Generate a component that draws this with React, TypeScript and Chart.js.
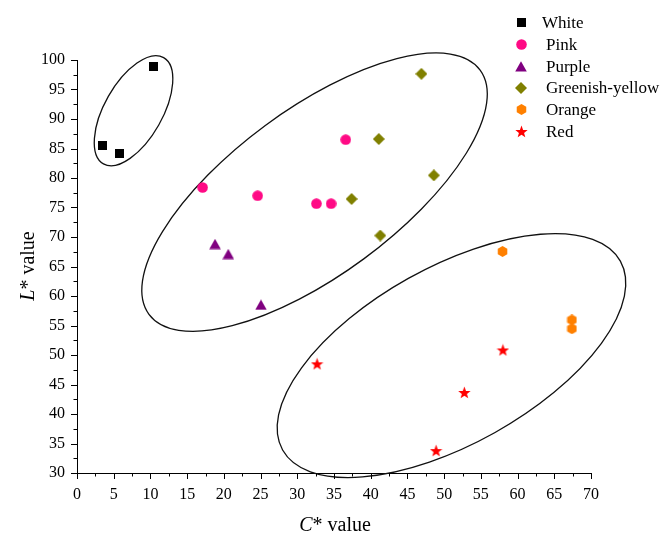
import React, { useEffect, useRef } from 'react';
import { Chart, registerables } from 'chart.js';
Chart.register(...registerables);

// ---- data ----
const seriesNames = ['White', 'Pink', 'Purple', 'Greenish-yellow', 'Orange', 'Red'];
const seriesColors = ['#000000', '#ff0a85', '#800080', '#808000', '#ff8000', '#ff0000'];
const seriesShapes = ['square', 'circle', 'triangle', 'diamond', 'hexagon', 'star'];

const whiteC = [10.4, 3.5, 5.8];
const whiteL = [98.85, 85.5, 84.1];
const pinkC = [17.1, 24.6, 32.6, 34.6, 36.6];
const pinkL = [78.4, 77.0, 75.65, 75.65, 86.5];
const purpleC = [18.8, 20.6, 25.05];
const purpleL = [68.8, 67.1, 58.5];
const greenC = [46.9, 41.1, 48.6, 37.4, 41.3];
const greenL = [97.65, 86.6, 80.45, 76.45, 70.25];
const orangeC = [57.95, 67.4, 67.4];
const orangeL = [67.55, 55.95, 54.45];
const redC = [32.7, 58.0, 52.75, 48.9];
const redL = [48.5, 50.85, 43.65, 33.8];

const xTicksMin = 0;
const xTicksMax = 70;
const yTicksMin = 30;
const yTicksMax = 100;
const tickStep = 5;

// cluster ellipses (data units): centre, major-axis end, minor/major ratio
const ellipseCenterC = [7.7, 32.35, 51.0];
const ellipseCenterL = [91.4, 77.6, 49.9];
const ellipseEndC = [11.8, 54.9, 74.0];
const ellipseEndL = [100.4, 98.3, 65.9];
const ellipseRatio = [0.475, 0.403, 0.457];

const FONT = "'Liberation Serif', 'Times New Roman', serif";

function makeMarker(shape: string, color: string): HTMLCanvasElement {
  const c = document.createElement('canvas');
  let w = 10, h = 10;
  if (shape === 'square') { w = 9; h = 9; }
  if (shape === 'circle') { w = 11; h = 11; }
  if (shape === 'triangle') { w = 12; h = 11; }
  if (shape === 'diamond') { w = 12; h = 12; }
  if (shape === 'hexagon') { w = 11; h = 11; }
  if (shape === 'star') { w = 13; h = 13; }
  c.width = w; c.height = h;
  const ctx = c.getContext('2d')!;
  ctx.fillStyle = color;
  ctx.beginPath();
  if (shape === 'square') {
    ctx.rect(0, 0, w, h);
  } else if (shape === 'circle') {
    ctx.arc(w / 2, h / 2, 5.3, 0, Math.PI * 2);
  } else if (shape === 'triangle') {
    ctx.moveTo(w / 2, 0.3);
    ctx.lineTo(w - 0.2, h - 0.5);
    ctx.lineTo(0.2, h - 0.5);
    ctx.closePath();
  } else if (shape === 'diamond') {
    ctx.moveTo(w / 2, 0);
    ctx.lineTo(w, h / 2);
    ctx.lineTo(w / 2, h);
    ctx.lineTo(0, h / 2);
    ctx.closePath();
  } else if (shape === 'hexagon') {
    for (let i = 0; i < 6; i++) {
      const a = -Math.PI / 2 + (i * Math.PI) / 3;
      const px = w / 2 + 5.5 * Math.cos(a);
      const py = h / 2 + 5.5 * Math.sin(a);
      if (i === 0) ctx.moveTo(px, py); else ctx.lineTo(px, py);
    }
    ctx.closePath();
  } else if (shape === 'star') {
    for (let i = 0; i < 10; i++) {
      const a = -Math.PI / 2 + (i * Math.PI) / 5;
      const r = i % 2 === 0 ? 6.5 : 2.7;
      const px = w / 2 + r * Math.cos(a);
      const py = h / 2 + 0.6 + r * Math.sin(a);
      if (i === 0) ctx.moveTo(px, py); else ctx.lineTo(px, py);
    }
    ctx.closePath();
  }
  ctx.fill();
  return c;
}

export default function App() {
  const ref = useRef<HTMLCanvasElement | null>(null);

  useEffect(() => {
    if (!ref.current) return;
    const markers = seriesShapes.map((s, i) => makeMarker(s, seriesColors[i]));
    const xs = [whiteC, pinkC, purpleC, greenC, orangeC, redC];
    const ys = [whiteL, pinkL, purpleL, greenL, orangeL, redL];

    const datasets = seriesNames.map((name, i) => ({
      label: name,
      data: xs[i].map((x, j) => ({ x, y: ys[i][j] })),
      pointStyle: markers[i],
      pointRadius: 5,
      backgroundColor: seriesColors[i],
      borderColor: seriesColors[i],
      showLine: false,
    }));

    const decor = {
      id: 'decor',
      beforeDatasetsDraw(chart: any) {
        const ctx = chart.ctx;
        const xS = chart.scales.x;
        const yS = chart.scales.y;
        ctx.save();
        ctx.strokeStyle = '#111';
        ctx.lineWidth = 1.3;
        for (let i = 0; i < ellipseCenterC.length; i++) {
          const cx = xS.getPixelForValue(ellipseCenterC[i]);
          const cy = yS.getPixelForValue(ellipseCenterL[i]);
          const ex = xS.getPixelForValue(ellipseEndC[i]);
          const ey = yS.getPixelForValue(ellipseEndL[i]);
          const a = Math.hypot(ex - cx, ey - cy);
          const ang = Math.atan2(ey - cy, ex - cx);
          ctx.beginPath();
          ctx.ellipse(cx, cy, a, a * ellipseRatio[i], ang, 0, Math.PI * 2);
          ctx.stroke();
        }
        ctx.restore();
      },
      afterDraw(chart: any) {
        const ctx = chart.ctx;
        const area = chart.chartArea;
        const xS = chart.scales.x;
        const yS = chart.scales.y;
        ctx.save();
        // tick marks
        ctx.strokeStyle = '#000';
        ctx.lineWidth = 1;
        ctx.beginPath();
        for (let v = xTicksMin; v <= xTicksMax + 1e-6; v += tickStep / 2) {
          const major = Math.abs(v / tickStep - Math.round(v / tickStep)) < 1e-6;
          const px = Math.round(xS.getPixelForValue(v)) + 0.5;
          const y0 = Math.round(area.bottom);
          ctx.moveTo(px, y0);
          ctx.lineTo(px, y0 + (major ? 6 : 3.5));
        }
        for (let v = yTicksMin; v <= yTicksMax + 1e-6; v += tickStep / 2) {
          const major = Math.abs(v / tickStep - Math.round(v / tickStep)) < 1e-6;
          const py = Math.round(yS.getPixelForValue(v)) + 0.5;
          const x0 = Math.round(area.left);
          ctx.moveTo(x0, py);
          ctx.lineTo(x0 - (major ? 6 : 3.5), py);
        }
        ctx.stroke();

        // axis titles
        ctx.fillStyle = '#000';
        ctx.textBaseline = 'alphabetic';
        const italicFont = `italic 20px ${FONT}`;
        const normalFont = `20px ${FONT}`;
        const drawTitle = (x: number, y: number, rot: number, first: string, rest: string) => {
          ctx.save();
          ctx.translate(x, y);
          ctx.rotate(rot);
          ctx.font = italicFont;
          const w1 = ctx.measureText(first).width;
          ctx.font = normalFont;
          const w2 = ctx.measureText(rest).width;
          const start = -(w1 + w2) / 2;
          ctx.textAlign = 'left';
          ctx.font = italicFont;
          ctx.fillText(first, start, 0);
          ctx.font = normalFont;
          ctx.fillText(rest, start + w1, 0);
          ctx.restore();
        };
        drawTitle((area.left + area.right) / 2 + 1, 531, 0, 'C', '* value');
        drawTitle(34, 266, -Math.PI / 2, 'L', '* value');

        // legend
        ctx.font = `17px ${FONT}`;
        ctx.textAlign = 'left';
        ctx.textBaseline = 'middle';
        const legX = 521;
        const legTop = 22.3;
        const legStep = 21.9;
        seriesNames.forEach((name, i) => {
          const y = legTop + i * legStep;
          const m = markers[i];
          ctx.drawImage(m, Math.round(legX - m.width / 2), Math.round(y - m.height / 2));
          ctx.fillText(name, i === 0 ? 542 : 546, y + 1);
        });
        ctx.restore();
      },
    };

    const chart = new Chart(ref.current, {
      type: 'scatter',
      data: { datasets },
      options: {
        animation: false,
        responsive: false,
        events: [],
        layout: { padding: { top: 60, right: 73, bottom: 0, left: 0 } },
        plugins: {
          legend: { display: false },
          tooltip: { enabled: false },
          title: { display: false },
        },
        scales: {
          x: {
            type: 'linear',
            min: xTicksMin,
            max: xTicksMax,
            grid: { display: false, drawTicks: false },
            border: { display: true, color: '#000', width: 1 },
            ticks: {
              stepSize: tickStep,
              padding: 12,
              color: '#000',
              maxRotation: 0,
              font: { family: FONT, size: 16 },
            },
            afterFit: (s: any) => { s.height = 63; },
          },
          y: {
            type: 'linear',
            min: yTicksMin,
            max: yTicksMax,
            grid: { display: false, drawTicks: false },
            border: { display: true, color: '#000', width: 1 },
            ticks: {
              stepSize: tickStep,
              padding: 12,
              color: '#000',
              font: { family: FONT, size: 16 },
            },
            afterFit: (s: any) => { s.width = 77; },
          },
        },
      },
      plugins: [decor],
    } as any);
    return () => chart.destroy();
  }, []);

  return (
    <div style={{ position: 'fixed', left: 0, top: 0, width: 664, height: 536, background: '#fff' }}>
      <canvas ref={ref} width={664} height={536} style={{ display: 'block' }} />
    </div>
  );
}
